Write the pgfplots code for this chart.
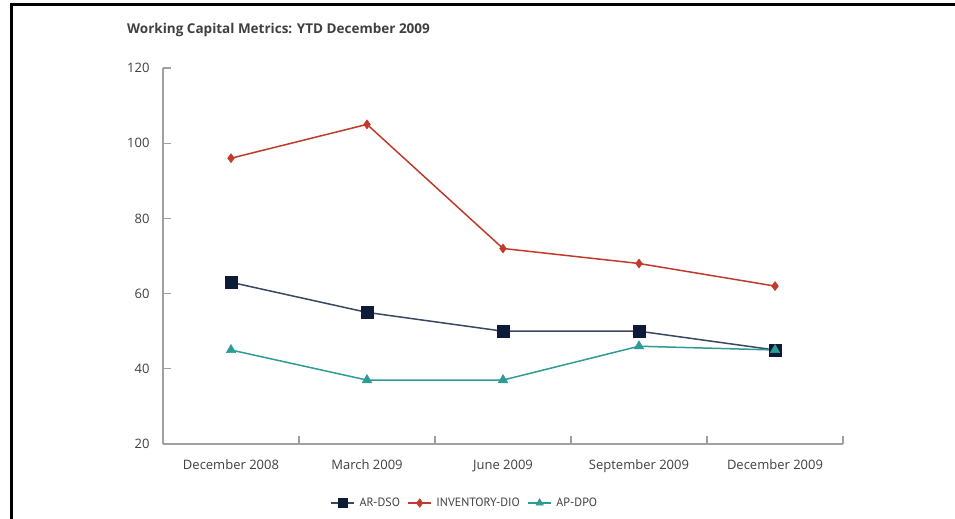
\documentclass[border=0pt]{standalone}
\usepackage{pgfplots}
\pgfplotsset{compat=1.18}
\usepackage{fontspec}
\setmainfont{Open Sans}
\newfontfamily\legfont{PT Sans}
\definecolor{navy}{HTML}{0E1B38}
\definecolor{navyline}{HTML}{3A4662}
\definecolor{redc}{HTML}{C23A2C}
\definecolor{tealc}{HTML}{2E9C94}
\definecolor{axisgrey}{HTML}{A0A0A0}
\definecolor{txt}{HTML}{404040}
\begin{document}
\begin{tikzpicture}[x=1bp,y=1bp]
\path[use as bounding box,fill=white] (0,0) rectangle (955,519);
\draw[line width=3bp,black] (11,0) -- (11,514.5) -- (955,514.5);
\node[anchor=base west,font=\bfseries\fontsize{13.5bp}{15bp}\selectfont,text=txt,inner sep=0pt] at (127,485) {Working Capital Metrics: YTD December 2009};
\begin{axis}[
  at={(163bp,75bp)}, anchor=south west,
  scale only axis, width=680bp, height=376bp,
  xmin=-0.5, xmax=4.5, ymin=20, ymax=120,
  axis lines*=left,
  axis line style={axisgrey,line width=1.6bp,-},
  tick style={axisgrey,line width=1.2bp},
  tick align=inside,
  major tick length=8bp,
  xtick={-0.5,0.5,1.5,2.5,3.5,4.5},
  x tick label as interval,
  xticklabels={December 2008,March 2009,June 2009,September 2009,December 2009},
  ytick={20,40,60,80,100,120},
  /pgf/number format/assume math mode=true,
  ticklabel style={text=txt},
  xticklabel style={font=\fontsize{13bp}{15bp}\selectfont,anchor=north,text height=10bp,text depth=3bp,yshift=-12bp},
  yticklabel style={font=\fontsize{13bp}{15bp}\selectfont,xshift=-10bp},
  legend columns=3,
  legend style={draw=none,fill=none,at={(axis description cs:0.4456,-0.157)},anchor=center,
    font=\legfont\fontsize{12bp}{14bp}\selectfont,text=txt,
    nodes={inner xsep=4.5bp},
    /tikz/every even column/.append style={column sep=3bp}},
  legend image post style={mark size=4.3bp},
  legend image code/.code={\draw[mark repeat=2,mark phase=2,#1] plot coordinates {(0bp,0bp) (11.5bp,0bp) (23bp,0bp)};},
]
\addplot[navyline,line width=1.5bp,mark=square*,mark size=6bp,mark options={fill=navy,draw=navy,line width=0.5bp}]
  coordinates {(0,63) (1,55) (2,50) (3,50) (4,45)};
\addlegendentry{AR-DSO}
\addplot[redc,line width=1.5bp,mark=diamond*,mark size=4.5bp,mark options={fill=redc,draw=redc,line width=0.5bp}]
  coordinates {(0,96) (1,105) (2,72) (3,68) (4,62)};
\addlegendentry{INVENTORY-DIO}
\addplot[tealc,line width=1.5bp,mark=triangle*,mark size=5.5bp,mark options={fill=tealc,draw=tealc,line width=0.5bp}]
  coordinates {(0,45) (1,37) (2,37) (3,46) (4,45)};
\addlegendentry{AP-DPO}
\end{axis}
\end{tikzpicture}
\end{document}
